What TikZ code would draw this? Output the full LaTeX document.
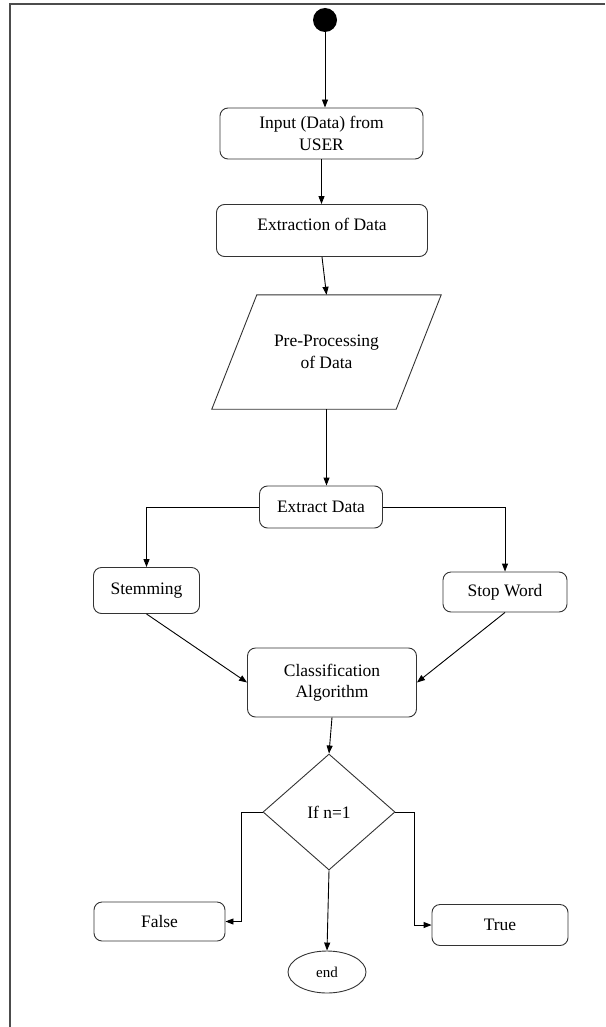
\documentclass[tikz,border=0pt]{standalone}
\usepackage{fontspec}
\setmainfont{Liberation Serif}
\usetikzlibrary{shapes.geometric,arrows.meta}
\tikzset{
 procbox/.style={draw=black!80,line width=0.9pt,rounded corners=8pt,align=center,inner sep=2pt},
 flow/.style={line width=0.9pt,-{Triangle[length=8pt,width=6pt]}},
}
\begin{document}
\begin{tikzpicture}[x=1pt,y=-1pt,font=\fontsize{17.5}{21.5}\selectfont]
\useasboundingbox (0,0) rectangle (605,1027);
\draw[line width=2pt,black!70] (605,4) -- (10,4) -- (10,1027);
% nodes
\node[circle,fill=black,minimum size=24pt,inner sep=0pt] (start) at (325,20) {};
\node[procbox,minimum width=203pt,minimum height=51pt] (input) at (321.5,133.5) {Input (Data) from\\USER};
\node[procbox,minimum width=211pt,minimum height=52pt,text depth=13pt] (extraction) at (322,230.5) {Extraction of Data};
\node[minimum width=229pt,minimum height=114pt,align=center,inner sep=0pt] (preproc) at (326.5,352) {Pre-Processing\\of Data};
\draw[black!80,line width=0.9pt] ([xshift=45pt]preproc.north west) -- (preproc.north east)
 -- ([xshift=-45pt]preproc.south east) -- (preproc.south west) -- cycle;
\node[procbox,minimum width=123pt,minimum height=42pt] (extract) at (321,507) {Extract Data};
\node[procbox,minimum width=106pt,minimum height=46pt] (stem) at (146.5,590.5) {Stemming};
\node[procbox,minimum width=124pt,minimum height=40pt] (stop) at (505,592) {Stop Word};
\node[procbox,minimum width=169pt,minimum height=69pt] (classif) at (332,682.5) {Classification\\Algorithm};
\node[draw=black!80,line width=0.9pt,diamond,aspect=1.14,minimum width=132pt,minimum height=116pt,inner sep=0pt] (decision) at (329,812) {If n=1};
\node[procbox,minimum width=131pt,minimum height=39pt] (false) at (159.5,921.5) {False};
\node[procbox,minimum width=136pt,minimum height=41pt] (true) at (500,925) {True};
\node[draw=black!80,line width=0.9pt,ellipse,minimum width=78pt,minimum height=42pt,inner sep=0pt,
 font=\fontsize{15}{18}\selectfont] (end) at (327,972) {end};
% connectors
\draw[flow] (start) -- (start |- input.north);
\draw[flow] (input.south) -- (input.south |- extraction.north);
\draw[flow] (extraction.south) -- (preproc.north);
\draw[flow] (preproc.south) -- (preproc.south |- extract.north);
\draw[flow] (extract.west) -| (stem.north);
\draw[flow] (extract.east) -| (stop.north);
\draw[flow] (stem.south) -- (classif.west);
\draw[flow] (stop.south) -- (classif.east);
\draw[flow] (classif.south) -- (decision.north);
\draw[flow] (decision.west) -- ++(-21,0) |- (false.east);
\draw[flow] (decision.east) -- ++(19,0) |- (true.west);
\draw[flow] (decision.south) -- (end.north);
\end{tikzpicture}
\end{document}
